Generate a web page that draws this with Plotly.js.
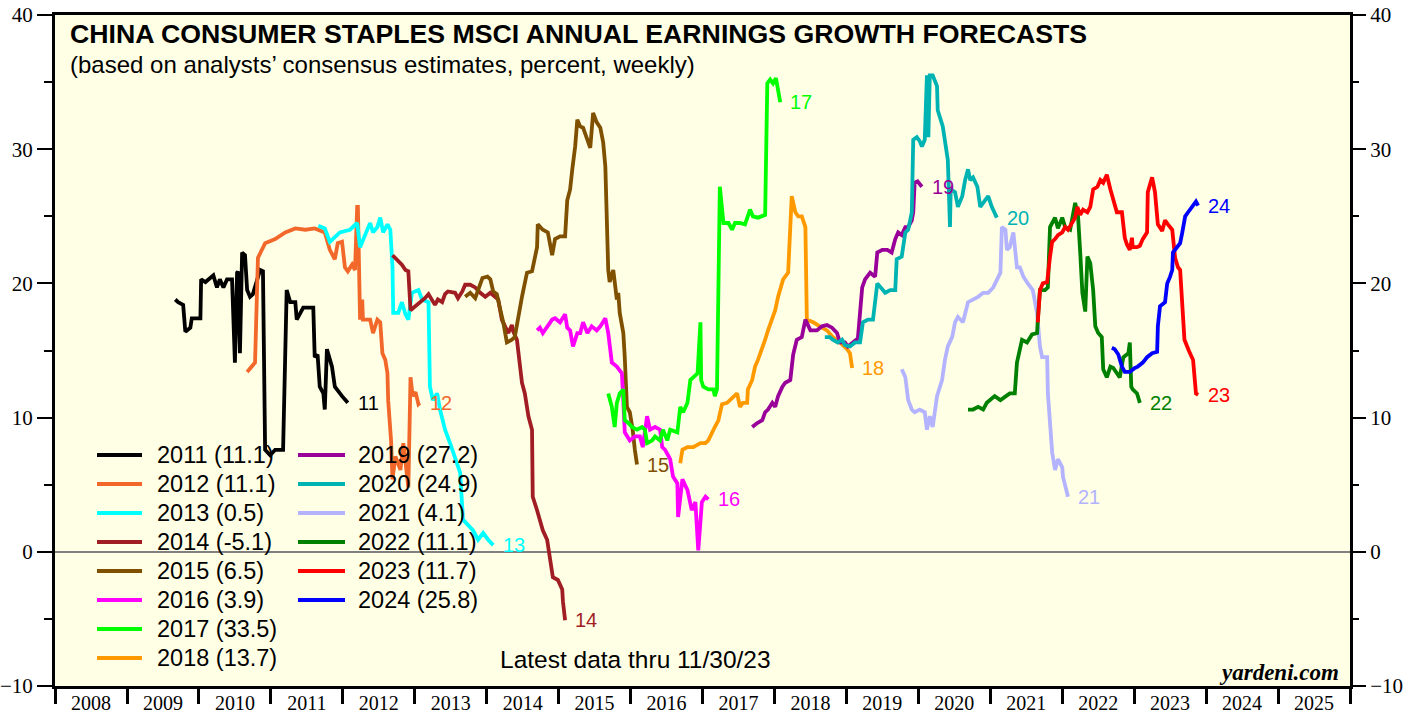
<!DOCTYPE html>
<html>
<head>
<meta charset="utf-8">
<script src="https://cdn.plot.ly/plotly-3.0.1.min.js"></script>
<style>
html,body{margin:0;padding:0;background:#ffffff;}
#chart{width:1418px;height:717px;}
</style>
</head>
<body>
<div id="chart"></div>
<script>
// ---------- DATA (x = decimal year, y = percent) ----------
const seriesYears = ['2011','2012','2013','2014','2015','2016','2017','2018','2019','2020','2021','2022','2023','2024'];
const seriesColors = ['#000000','#f2682a','#00ffff','#a01e23','#7f5000','#ff00ff','#00ff00','#ff9900','#990099','#00b3b3','#b3b3ff','#008000','#ff0000','#0000ff'];

const x2011 = [2009.67,2009.71,2009.78,2009.81,2009.88,2009.90,2010.02,2010.03,2010.09,2010.20,2010.25,2010.29,2010.34,2010.39,2010.46,2010.50,2010.53,2010.54,2010.57,2010.60,2010.64,2010.67,2010.71,2010.75,2010.85,2010.89,2010.92,2010.99,2011.06,2011.17,2011.22,2011.27,2011.34,2011.36,2011.45,2011.59,2011.61,2011.65,2011.68,2011.73,2011.75,2011.78,2011.85,2011.89,2011.99,2012.07];
const y2011 = [18.8,18.6,18.4,16.4,16.7,17.4,17.4,20.3,20.1,20.6,19.7,20.3,19.7,20.3,20.3,14.1,20.8,20.9,14.8,22.3,22.1,19.5,19.0,19.2,21.0,20.9,7.6,7.2,7.6,7.6,19.5,18.6,18.6,17.3,18.2,18.2,14.5,14.7,12.3,11.8,10.6,15.1,13.8,12.3,11.6,11.1];

const x2012 = [2010.67,2010.74,2010.78,2010.82,2010.92,2011.06,2011.20,2011.34,2011.48,2011.61,2011.75,2011.82,2011.89,2011.93,2011.99,2012.03,2012.07,2012.13,2012.17,2012.20,2012.21,2012.24,2012.27,2012.28,2012.38,2012.42,2012.48,2012.52,2012.55,2012.59,2012.62,2012.63,2012.66,2012.67,2012.69,2012.73,2012.80,2012.84,2012.91,2012.94,2012.97,2013.01,2013.05,2013.07];
const y2012 = [13.4,13.9,14.1,21.9,23.0,23.3,23.8,24.1,24.0,24.1,23.8,22.5,21.8,23.0,23.1,21.2,20.9,21.4,21.0,25.7,25.7,17.3,18.8,17.3,17.3,16.3,17.3,17.1,14.8,14.3,13.3,11.3,9.1,8.3,5.4,7.1,6.1,8.1,4.8,13.0,11.6,11.9,11.0,11.1];

const x2013 = [2011.66,2011.75,2011.82,2011.96,2012.10,2012.20,2012.24,2012.28,2012.34,2012.38,2012.42,2012.48,2012.52,2012.56,2012.62,2012.66,2012.69,2012.70,2012.77,2012.82,2012.87,2012.91,2012.96,2013.05,2013.10,2013.19,2013.21,2013.25,2013.31,2013.35,2013.42,2013.49,2013.63,2013.67,2013.81,2013.88,2013.95,2014.02,2014.09];
const y2013 = [24.3,24.1,23.1,23.8,24.0,24.5,22.7,23.3,24.0,24.5,23.8,24.2,24.9,23.8,24.4,24.0,21.2,17.8,17.8,18.6,17.7,17.3,19.3,19.5,18.8,18.6,12.3,11.3,11.8,10.6,9.1,8.1,5.9,2.4,1.6,0.9,1.4,0.9,0.5];

const x2014 = [2012.69,2012.75,2012.82,2012.87,2012.91,2012.94,2013.01,2013.07,2013.14,2013.19,2013.24,2013.28,2013.32,2013.38,2013.42,2013.46,2013.56,2013.60,2013.66,2013.70,2013.77,2013.84,2013.91,2013.98,2014.05,2014.12,2014.16,2014.21,2014.26,2014.30,2014.35,2014.37,2014.42,2014.44,2014.49,2014.53,2014.58,2014.63,2014.64,2014.70,2014.74,2014.78,2014.84,2014.88,2014.92,2014.99,2015.05,2015.06,2015.09];
const y2014 = [22.1,21.8,21.4,21.0,20.9,18.0,18.3,18.6,18.9,19.2,18.8,18.4,18.8,18.6,19.2,19.4,19.3,18.9,19.4,19.9,19.9,19.7,19.3,19.0,19.3,19.0,18.8,17.3,16.8,16.3,16.9,16.4,15.8,14.8,12.6,11.8,10.1,9.1,4.1,3.1,2.2,1.6,0.9,-0.6,-1.9,-2.1,-2.8,-3.7,-5.1];

const x2015 = [2013.70,2013.77,2013.84,2013.88,2013.94,2014.01,2014.05,2014.09,2014.14,2014.19,2014.23,2014.28,2014.35,2014.39,2014.44,2014.49,2014.56,2014.63,2014.70,2014.71,2014.78,2014.85,2014.91,2014.95,2015.02,2015.09,2015.12,2015.16,2015.19,2015.23,2015.26,2015.30,2015.34,2015.40,2015.44,2015.48,2015.53,2015.58,2015.62,2015.65,2015.67,2015.69,2015.71,2015.76,2015.81,2015.83,2015.85,2015.90,2015.92,2015.95,2015.99,2016.03,2016.06,2016.09];
const y2015 = [19.0,19.3,18.9,19.5,20.4,20.5,20.3,19.4,19.2,18.0,17.1,15.6,15.8,16.0,17.7,19.0,20.8,20.9,22.7,24.4,24.0,23.8,22.1,23.3,23.5,23.5,26.2,27.0,28.5,30.2,32.2,31.7,31.6,30.7,30.1,32.7,32.0,31.6,30.5,28.7,24.2,21.0,20.1,21.0,18.8,19.3,17.8,16.3,14.5,10.8,10.4,9.1,7.6,6.5];

const x2016 = [2014.70,2014.74,2014.78,2014.84,2014.91,2014.95,2015.02,2015.09,2015.12,2015.16,2015.20,2015.26,2015.30,2015.34,2015.40,2015.46,2015.53,2015.58,2015.65,2015.69,2015.74,2015.81,2015.88,2015.90,2015.92,2015.99,2016.06,2016.13,2016.17,2016.23,2016.27,2016.34,2016.41,2016.44,2016.48,2016.55,2016.59,2016.65,2016.66,2016.72,2016.79,2016.85,2016.90,2016.94,2016.99,2017.04,2017.08];
const y2016 = [16.5,16.7,16.3,16.8,17.3,17.4,17.1,17.7,16.7,16.5,15.3,16.3,16.3,17.1,16.3,16.8,16.5,16.8,17.4,16.3,14.1,13.8,13.3,11.3,8.9,8.3,8.6,8.6,7.8,10.1,9.1,9.3,9.1,7.8,7.6,6.9,5.6,5.1,2.6,5.4,4.6,3.1,3.7,0.1,3.7,4.1,3.9];

const x2017 = [2015.69,2015.74,2015.78,2015.81,2015.85,2015.90,2015.92,2015.97,2016.02,2016.09,2016.16,2016.20,2016.23,2016.30,2016.34,2016.41,2016.45,2016.51,2016.55,2016.65,2016.69,2016.73,2016.79,2016.83,2016.87,2016.93,2016.97,2016.98,2017.01,2017.08,2017.15,2017.17,2017.20,2017.24,2017.29,2017.36,2017.41,2017.45,2017.52,2017.59,2017.66,2017.70,2017.77,2017.87,2017.90,2017.94,2017.98,2018.02,2018.05,2018.08];
const y2017 = [11.8,10.8,9.3,11.1,11.8,12.1,9.8,9.6,9.3,9.1,9.3,9.1,8.1,8.3,8.6,8.3,9.1,8.3,9.1,8.9,10.8,10.4,11.1,12.8,13.0,13.3,17.1,12.8,12.3,12.1,12.1,11.6,12.1,27.2,24.5,24.5,24.0,24.5,24.5,24.4,25.5,25.0,24.9,25.1,34.9,35.2,34.9,35.3,34.4,33.5];

const x2018 = [2016.69,2016.72,2016.79,2016.87,2016.97,2017.04,2017.08,2017.13,2017.17,2017.22,2017.27,2017.34,2017.38,2017.43,2017.48,2017.52,2017.56,2017.62,2017.63,2017.69,2017.73,2017.77,2017.83,2017.87,2017.91,2017.97,2018.01,2018.05,2018.12,2018.19,2018.24,2018.29,2018.33,2018.38,2018.43,2018.45,2018.54,2018.63,2018.73,2018.81,2018.91,2019.01,2019.05,2019.08];
const y2018 = [6.6,7.6,7.8,7.8,8.1,8.1,8.3,8.9,9.3,9.8,11.0,11.1,11.3,11.6,11.8,10.8,11.1,11.1,12.1,12.8,13.8,14.3,15.1,15.8,16.5,17.3,18.0,19.0,20.3,20.8,26.5,25.3,25.0,25.0,24.2,17.3,17.1,16.8,16.5,16.0,15.6,15.1,14.8,13.7];

const x2019 = [2017.69,2017.76,2017.83,2017.87,2017.91,2017.97,2018.01,2018.05,2018.11,2018.15,2018.22,2018.26,2018.31,2018.38,2018.43,2018.50,2018.59,2018.66,2018.73,2018.80,2018.87,2018.91,2018.98,2019.02,2019.09,2019.16,2019.22,2019.26,2019.33,2019.40,2019.43,2019.50,2019.57,2019.63,2019.68,2019.72,2019.77,2019.82,2019.86,2019.91,2019.93,2019.95,2019.99,2020.05];
const y2019 = [9.3,9.6,9.8,10.4,10.6,11.1,10.8,11.6,12.3,12.6,12.8,14.7,15.8,16.0,17.3,16.5,16.5,16.8,16.9,16.7,16.3,15.6,15.6,15.3,15.6,15.9,19.7,20.3,20.8,20.5,22.3,22.5,22.5,22.3,23.3,23.8,23.6,24.2,24.2,24.7,25.3,27.5,27.6,27.2];

const x2020 = [2018.70,2018.77,2018.81,2018.88,2018.94,2018.98,2019.05,2019.12,2019.19,2019.23,2019.30,2019.37,2019.43,2019.50,2019.54,2019.61,2019.68,2019.70,2019.77,2019.82,2019.86,2019.91,2019.93,2019.98,2020.02,2020.05,2020.09,2020.12,2020.14,2020.16,2020.20,2020.26,2020.27,2020.34,2020.41,2020.44,2020.45,2020.51,2020.55,2020.61,2020.65,2020.69,2020.72,2020.76,2020.82,2020.86,2020.93,2020.97,2021.02,2021.09];
const y2020 = [16.0,16.0,15.8,15.6,15.8,15.4,15.3,15.6,15.6,17.1,17.3,17.3,20.0,19.5,19.3,19.5,19.5,21.8,22.0,23.8,24.0,25.3,30.7,30.9,30.6,30.2,30.7,35.5,30.9,35.5,35.5,34.7,32.9,31.7,29.2,24.2,27.0,26.8,25.7,26.5,27.7,28.5,27.7,27.9,27.2,25.7,26.2,26.5,25.7,24.9];

const x2021 = [2019.77,2019.82,2019.86,2019.91,2019.95,2020.02,2020.09,2020.12,2020.16,2020.20,2020.26,2020.33,2020.37,2020.41,2020.47,2020.51,2020.55,2020.62,2020.69,2020.76,2020.83,2020.90,2020.97,2021.04,2021.09,2021.14,2021.16,2021.21,2021.23,2021.27,2021.32,2021.37,2021.41,2021.46,2021.52,2021.59,2021.65,2021.69,2021.72,2021.79,2021.80,2021.86,2021.90,2021.94,2022.00,2022.01,2022.08];
const y2021 = [13.6,13.0,11.3,10.6,10.4,10.6,10.4,9.1,10.1,9.3,11.6,12.8,14.3,15.3,16.0,17.1,17.5,17.1,18.6,18.8,19.0,19.3,19.3,19.7,20.3,20.8,24.2,24.0,22.5,22.7,23.8,21.2,21.2,20.5,20.0,19.5,17.8,15.3,14.5,14.5,11.8,7.4,6.1,6.9,6.3,5.6,4.1];

const x2022 = [2020.69,2020.76,2020.83,2020.90,2020.95,2020.99,2021.06,2021.14,2021.21,2021.27,2021.34,2021.37,2021.44,2021.51,2021.58,2021.65,2021.66,2021.69,2021.76,2021.80,2021.83,2021.90,2021.94,2022.00,2022.04,2022.11,2022.18,2022.22,2022.25,2022.28,2022.32,2022.35,2022.39,2022.43,2022.46,2022.50,2022.55,2022.57,2022.62,2022.67,2022.71,2022.76,2022.80,2022.85,2022.92,2022.94,2022.96,2022.98,2023.04,2023.08];
const y2022 = [10.6,10.6,10.8,10.6,11.1,11.3,11.6,11.3,11.6,11.8,11.8,14.1,15.8,15.6,16.2,16.3,17.3,19.5,19.5,19.7,24.2,24.9,24.1,24.9,24.2,24.0,26.0,25.0,22.3,19.3,17.9,22.0,21.5,19.5,16.8,16.3,16.0,13.6,13.0,13.8,13.7,13.3,13.0,14.5,14.8,15.6,12.3,12.1,11.8,11.1];

const x2023 = [2021.66,2021.69,2021.73,2021.79,2021.83,2021.86,2021.90,2021.94,2022.00,2022.04,2022.08,2022.14,2022.18,2022.21,2022.25,2022.29,2022.35,2022.39,2022.43,2022.49,2022.53,2022.57,2022.62,2022.67,2022.71,2022.76,2022.83,2022.87,2022.90,2022.94,2022.97,2022.98,2023.04,2023.08,2023.12,2023.18,2023.19,2023.25,2023.29,2023.33,2023.39,2023.43,2023.47,2023.53,2023.57,2023.61,2023.64,2023.70,2023.76,2023.82,2023.86,2023.89];
const y2023 = [17.1,19.5,20.0,20.1,22.0,23.1,23.3,23.6,23.8,24.2,24.0,24.5,24.9,25.7,25.1,25.5,25.3,25.7,27.0,27.2,27.7,27.5,28.1,27.0,26.2,25.3,25.3,23.4,22.9,22.5,23.4,22.7,22.7,22.8,23.3,23.8,26.8,27.9,26.8,24.4,23.9,24.7,24.4,24.0,21.9,21.2,21.0,15.8,15.0,14.3,11.8,11.7];

const x2024 = [2022.69,2022.73,2022.78,2022.83,2022.87,2022.94,2023.01,2023.05,2023.12,2023.18,2023.25,2023.32,2023.33,2023.36,2023.43,2023.46,2023.50,2023.53,2023.54,2023.60,2023.64,2023.67,2023.71,2023.75,2023.81,2023.86,2023.89];
const y2024 = [15.2,15.1,14.7,13.8,13.4,13.4,13.7,13.8,14.1,14.5,14.8,14.9,16.8,18.3,18.6,20.0,20.5,21.0,22.3,22.7,23.0,23.8,25.0,25.3,25.7,26.1,25.8];

const xData = [x2011,x2012,x2013,x2014,x2015,x2016,x2017,x2018,x2019,x2020,x2021,x2022,x2023,x2024];
const yData = [y2011,y2012,y2013,y2014,y2015,y2016,y2017,y2018,y2019,y2020,y2021,y2022,y2023,y2024];

const titleText = 'CHINA CONSUMER STAPLES MSCI ANNUAL EARNINGS GROWTH FORECASTS';
const subtitleText = '(based on analysts\u2019 consensus estimates, percent, weekly)';
const noteText = 'Latest data thru 11/30/23';
const sourceText = 'yardeni.com';

// ---------- helpers ----------
function toDate(d) {
  const y = Math.floor(d);
  const s = Date.UTC(y, 0, 1), e = Date.UTC(y + 1, 0, 1);
  return new Date(s + (d - y) * (e - s)).toISOString().slice(0, 19);
}

const SANS = 'Liberation Sans, Arial, Helvetica, sans-serif';
const SERIF = 'Liberation Serif, Times New Roman, serif';

const traces = [];
const annotations = [];
const shapes = [];

seriesYears.forEach((yr, i) => {
  const xs = xData[i].map(toDate);
  const ys = yData[i];
  traces.push({
    type: 'scatter', mode: 'lines', x: xs, y: ys, name: yr,
    line: {color: seriesColors[i], width: 3.8},
    showlegend: false, hoverinfo: 'skip'
  });
  // end label
  annotations.push({
    x: xs[xs.length - 1], y: ys[ys.length - 1], xref: 'x', yref: 'y',
    text: yr.slice(2), showarrow: false, xanchor: 'left', yanchor: 'middle', xshift: 8,
    font: {family: SANS, size: 20, color: seriesColors[i]}
  });
  // custom legend (two columns)
  const col = i < 8 ? 0 : 1;
  const row = i < 8 ? i : i - 8;
  const ly = (231 - 29 * row) / 671;
  const lx0 = col === 0 ? 42 / 1295 : 243 / 1295;
  const lx1 = col === 0 ? 87 / 1295 : 290 / 1295;
  const tx = col === 0 ? 100 / 1295 : 301 / 1295;
  shapes.push({type: 'line', xref: 'paper', yref: 'paper', x0: lx0, x1: lx1, y0: ly, y1: ly,
    line: {color: seriesColors[i], width: 4}});
  annotations.push({
    xref: 'paper', yref: 'paper', x: tx, y: ly, xanchor: 'left', yanchor: 'middle',
    text: yr + ' (' + ys[ys.length - 1].toFixed(1) + ')', showarrow: false,
    font: {family: SANS, size: 23.5, color: '#000'}
  });
});

// dummy trace to register the right-hand axis
traces.push({type: 'scatter', mode: 'lines', x: [], y: [], xaxis: 'x', yaxis: 'y2', showlegend: false, hoverinfo: 'skip'});

annotations.push(
  {xref: 'paper', yref: 'paper', x: 13 / 1295, y: (686 - 34) / 671, xanchor: 'left', yanchor: 'middle',
   text: '<b>' + titleText + '</b>', showarrow: false, font: {family: SANS, size: 26.7, color: '#000'}},
  {xref: 'paper', yref: 'paper', x: 13 / 1295, y: (686 - 64) / 671, xanchor: 'left', yanchor: 'middle',
   text: subtitleText, showarrow: false, font: {family: SANS, size: 24, color: '#000'}},
  {xref: 'paper', yref: 'paper', x: (635 - 55) / 1295, y: (686 - 659) / 671, xanchor: 'center', yanchor: 'middle',
   text: noteText, showarrow: false, font: {family: SANS, size: 24.5, color: '#000'}},
  {xref: 'paper', yref: 'paper', x: (1341 - 55) / 1295, y: (686 - 672) / 671, xanchor: 'right', yanchor: 'middle',
   text: '<b><i>' + sourceText + '</i></b>', showarrow: false, font: {family: SERIF, size: 23, color: '#000'}}
);

const yCommon = {
  range: [-10, 40], tick0: 0, dtick: 10, ticks: 'outside', ticklen: 15, tickwidth: 2, tickcolor: '#000',
  showgrid: false, tickfont: {family: SERIF, size: 21, color: '#000'},
  minor: {dtick: 5, ticks: 'outside', ticklen: 8, tickwidth: 2, tickcolor: '#000', showgrid: false},
  fixedrange: true
};

const layout = {
  width: 1418, height: 717,
  margin: {l: 55, r: 68, t: 15, b: 31, pad: 0},
  paper_bgcolor: '#ffffff', plot_bgcolor: '#ffffe6',
  showlegend: false,
  xaxis: {
    type: 'date', range: ['2008-01-01', '2026-01-01'], tick0: '2008-01-01', dtick: 'M12',
    ticklabelmode: 'period', tickformat: '%Y', ticks: 'outside', ticklen: 15, tickwidth: 3, tickcolor: '#000',
    ticklabelstandoff: -18,
    showline: true, linewidth: 3, linecolor: '#000', mirror: true, showgrid: false, zeroline: false,
    tickfont: {family: SERIF, size: 20, color: '#000'}, fixedrange: true
  },
  yaxis: Object.assign({}, yCommon, {
    showline: true, linewidth: 3, linecolor: '#000', mirror: true,
    zeroline: true, zerolinecolor: '#808080', zerolinewidth: 1.5
  }),
  yaxis2: Object.assign({}, yCommon, {
    overlaying: 'y', side: 'right', showline: false, zeroline: false
  }),
  annotations: annotations,
  shapes: shapes
};

Plotly.newPlot('chart', traces, layout, {displayModeBar: false, staticPlot: true});
</script>
</body>
</html>
